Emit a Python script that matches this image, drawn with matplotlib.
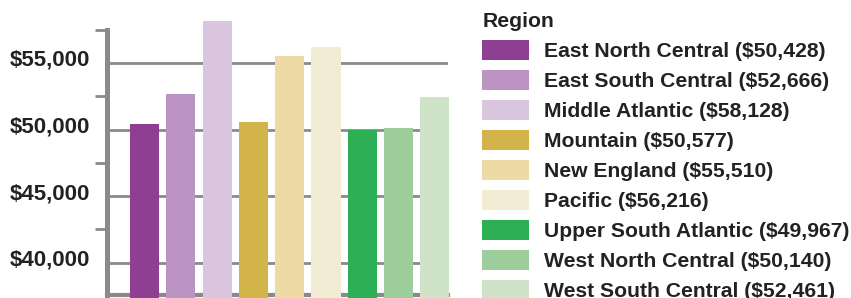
import matplotlib.pyplot as plt
from matplotlib.patches import Patch
from matplotlib.transforms import ScaledTranslation

plt.rcParams['font.family'] = ['Liberation Sans', 'DejaVu Sans']
plt.rcParams['font.weight'] = 'bold'

# data
regions = ['East North Central', 'East South Central', 'Middle Atlantic', 'Mountain',
           'New England', 'Pacific', 'Upper South Atlantic', 'West North Central',
           'West South Central']
incomes = [50428, 52666, 58128, 50577, 55510, 56216, 49967, 50140, 52461]
colors = ['#8e3f92', '#bc94c3', '#d9c6de', '#d2b44a', '#eedaa4', '#f3ecd4',
          '#2daf56', '#9dcd9a', '#cfe3c8']
major_ticks = [40000, 45000, 50000, 55000]
minor_ticks = [42500, 47500, 52500, 57500]
tick_labels = ['$40,000', '$45,000', '$50,000', '$55,000']

fig = plt.figure(figsize=(8.51, 2.98), dpi=100)
ax = fig.add_axes([107 / 851, 3.3 / 298, (448 - 107) / 851, 294.7 / 298])

x = list(range(len(regions)))
ax.bar(x, incomes, width=0.8, color=colors, zorder=3, clip_on=False)

ax.set_xlim(-1.03, 8.36)
ax.set_ylim(37600, 59730)

grey = '#8a8a8a'
ax.set_yticks(major_ticks)
ax.set_yticklabels(tick_labels, fontsize=16, color='#222222')
ax.set_yticks(minor_ticks, minor=True)
ax.tick_params(axis='y', which='major', length=0, pad=12)
ax.tick_params(axis='y', which='minor', length=9, width=2, color=grey)
ax.set_xticks([])
ax.yaxis.grid(True, which='major', color=grey, linewidth=2, zorder=1)
ax.set_axisbelow(True)

# labels sit a little above their gridline
shift = ScaledTranslation(0, 5 / 100, fig.dpi_scale_trans)
for lab in ax.get_yticklabels():
    lab.set_transform(lab.get_transform() + shift)

for s in ['top', 'right']:
    ax.spines[s].set_visible(False)
ax.spines['left'].set_color(grey)
ax.spines['left'].set_linewidth(3.6)
ax.spines['left'].set_bounds(37600, 57500)
ax.spines['bottom'].set_color(grey)
ax.spines['bottom'].set_linewidth(3)

handles = [Patch(facecolor=c, edgecolor='none') for c in colors]
labels = [f'{r} (${v:,})' for r, v in zip(regions, incomes)]
leg = fig.legend(handles, labels, title='Region', loc='upper left',
                 bbox_to_anchor=(476 / 851, 1 - 6 / 298), frameon=False,
                 fontsize=15.2, title_fontsize=15.2, alignment='left',
                 handlelength=2.2, handleheight=1.1, handletextpad=0.72,
                 labelspacing=0.41, borderaxespad=0, borderpad=0.3)
leg.get_title().set_fontweight('bold')
leg.get_title().set_color('#222222')
for t in leg.get_texts():
    t.set_color('#222222')

fig.savefig('out.png', dpi=100)
